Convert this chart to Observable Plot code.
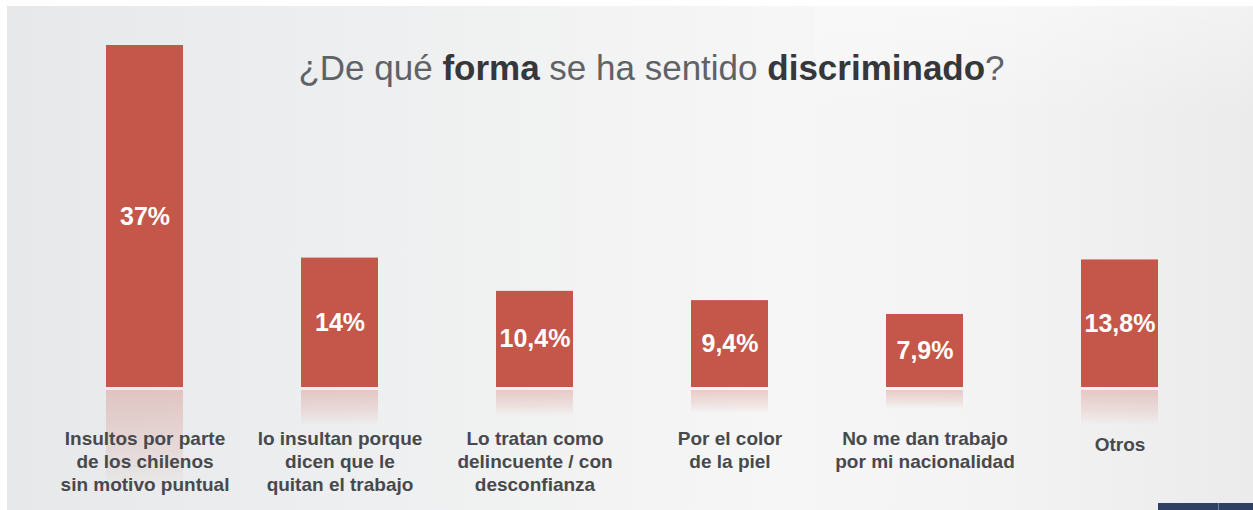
<!DOCTYPE html>
<html>
<head>
<meta charset="utf-8">
<script src="https://cdn.jsdelivr.net/npm/d3@7"></script>
<script src="https://cdn.jsdelivr.net/npm/@observablehq/plot@0.6"></script>
<style>
  html, body { margin: 0; padding: 0; background: #ffffff; }
  #wrap { position: relative; width: 1253px; height: 510px; overflow: hidden; font-family: "Liberation Sans", Arial, Helvetica, sans-serif; }
  #bg { position: absolute; left: 7px; top: 6px; right: 0; bottom: 0;
        background: linear-gradient(90deg, #e7e8e9 0%, #edeeef 25%, #f6f6f6 62%, #f3f3f3 80%, #ebebeb 100%); }
  #bgtr { position: absolute; left: 815px; top: 6px; right: 0; height: 110px;
        background: linear-gradient(180deg, rgba(255,255,255,0.35), rgba(255,255,255,0)); }
  #chart { position: absolute; left: 0; top: 0; }
  #title { position: absolute; left: 0; width: 1303px; top: 48px; text-align: center;
           font-size: 35px; color: #5f6266; white-space: nowrap; }
  #title b { color: #35373a; font-weight: bold; }
  #tab { position: absolute; left: 1158px; top: 503px; width: 95px; height: 7px; background: #2e4064; }
  #tab2 { position: absolute; left: 1218px; top: 503px; width: 1px; height: 7px; background: #6e7fa0; }
</style>
</head>
<body>
<div id="wrap">
  <div id="bg"></div>
  <div id="bgtr"></div>
  <div id="chart"></div>
  <div id="title">¿De qué <b>forma</b> se ha sentido <b>discriminado</b>?</div>
  <div id="tab"></div><div id="tab2"></div>
</div>
<script>
const categories = [
  "Insultos por parte\nde los chilenos\nsin motivo puntual",
  "lo insultan porque\ndicen que le\nquitan el trabajo",
  "Lo tratan como\ndelincuente / con\ndesconfianza",
  "Por el color\nde la piel",
  "No me dan trabajo\npor mi nacionalidad",
  "Otros"
];
const values = [37, 14, 10.4, 9.4, 7.9, 13.8];

const data = categories.map((c, i) => ({cat: c, value: values[i]}));
const fmt = v => String(v).replace(".", ",") + "%";
const barColor = "#c4574a";
const font = "'Liberation Sans', Arial, Helvetica, sans-serif";

const chart = Plot.plot({
  width: 1253,
  height: 510,
  marginLeft: 0,
  marginRight: 0,
  marginTop: 45,
  marginBottom: 123,
  style: {background: "transparent", fontFamily: font, overflow: "visible"},
  x: {domain: categories, range: [0, 1265], paddingInner: 0.603, paddingOuter: 0.54, axis: null},
  y: {domain: [0, 37], axis: null},
  marks: [
    Plot.barY(data, {x: "cat", y1: 0, y2: d => -0.3 * d.value, fill: "url(#refl)", insetTop: 3}),
    Plot.barY(data, {x: "cat", y: "value", fill: barColor}),
    Plot.text(data, {x: "cat", y: d => d.value / 2, text: d => fmt(d.value), fill: "#ffffff",
      fontSize: 25, fontWeight: "bold", letterSpacing: -0.6}),
    Plot.text(data.filter(d => d.cat !== "Otros"), {x: "cat", y: 0, text: "cat", lineAnchor: "top", dy: 41,
      lineHeight: 1.21, fontSize: 19, fontWeight: "bold", fill: "#47494c"}),
    Plot.text(data.filter(d => d.cat === "Otros"), {x: "cat", y: 0, text: "cat", lineAnchor: "top", dy: 50,
      fontSize: 19, fontWeight: "bold", fill: "#47494c"})
  ]
});

const ns = "http://www.w3.org/2000/svg";
const defs = document.createElementNS(ns, "defs");
defs.innerHTML = `<linearGradient id="refl" x1="0" y1="0" x2="0" y2="1">
  <stop offset="0" stop-color="${barColor}" stop-opacity="0.26"/>
  <stop offset="0.6" stop-color="${barColor}" stop-opacity="0.12"/>
  <stop offset="1" stop-color="${barColor}" stop-opacity="0"/>
</linearGradient>`;
chart.insertBefore(defs, chart.firstChild);
document.getElementById("chart").appendChild(chart);
</script>
</body>
</html>
